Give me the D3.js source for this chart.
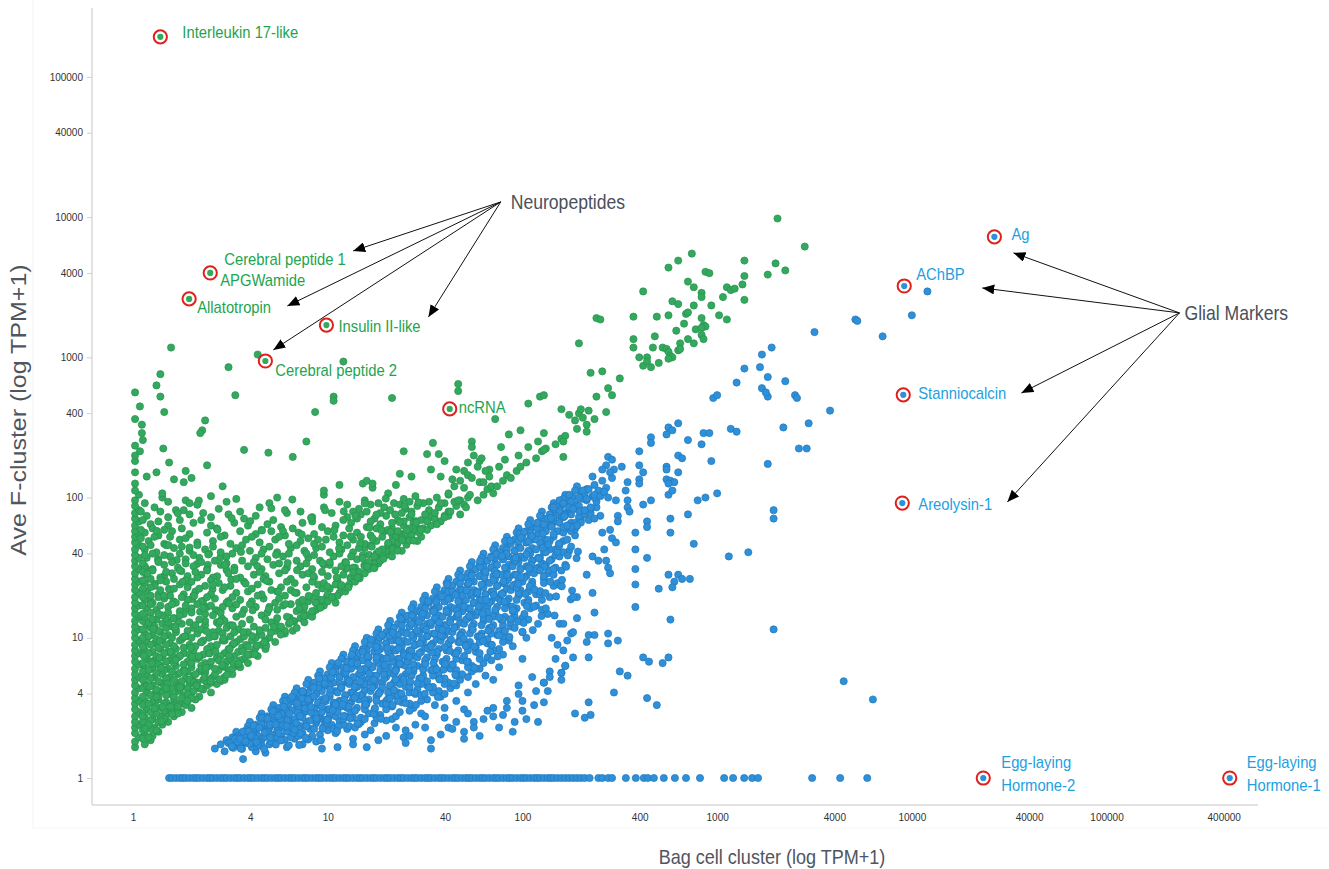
<!DOCTYPE html>
<html>
<head>
<meta charset="utf-8">
<script src="https://cdn.jsdelivr.net/npm/d3@7"></script>
<style>
  html, body { margin: 0; padding: 0; background: #ffffff; }
  svg { display: block; font-family: "Liberation Sans", Arial, Helvetica, sans-serif; }
</style>
</head>
<body>
<svg id="chart" width="1329" height="869"></svg>
<script>
// ---------------------------------------------------------------------------
// Expression values, written as "bag,fcluster" pairs in log10(TPM+1) units.
// ---------------------------------------------------------------------------

// F-cluster enriched genes with no bag cell expression (bag cell = 1)
const fZeroBag = "0.01,0.22 0.01,0.26 0.03,0.29 0.01,0.32 0.01,0.36 0.03,0.38 0.01,0.40 0.01,0.44 0.03,0.47 0.01,0.49 0.01,0.53 0.03,0.55 0.01,0.57 0.01,0.61 0.03,0.64 0.01,0.66 0.01,0.70 0.03,0.72 0.01,0.74 0.01,0.78 0.03,0.81 0.01,0.83 0.01,0.87 0.03,0.89 0.01,0.91 0.01,0.95 0.03,0.98 0.01,1.00 0.01,1.04 0.03,1.06 0.01,1.08 0.01,1.12 0.03,1.15 0.01,1.17 0.01,1.21 0.03,1.23 0.01,1.25 0.01,1.29 0.03,1.32 0.01,1.34 0.01,1.38 0.03,1.40 0.01,1.42 0.01,1.46 0.03,1.49 0.01,1.51 0.01,1.55 0.03,1.57 0.01,1.59 0.01,1.63 0.03,1.66 0.01,1.68 0.01,1.72 0.03,1.74 0.01,1.76 0.01,1.80 0.03,1.83 0.01,1.85 0.01,1.89 0.03,1.91 0.01,1.94 0.01,1.98 0.03,2.02 0.01,2.05 0.01,2.10 0.01,2.18 0.01,2.26 0.01,2.30 0.01,2.37 0.01,2.56 0.01,2.75 0.07,2.15 0.035,2.33 0.05,2.41 0.045,2.46 0.045,2.52 0.035,2.65";

// F-cluster enriched, low bag cell expression (dense corner)
const fLowBag = "0.06,0.24 0.09,0.27 0.06,0.31 0.10,0.30 0.13,0.33 0.07,0.37 0.11,0.36 0.15,0.38 0.18,0.40 0.06,0.43 0.10,0.42 0.14,0.44 0.17,0.45 0.21,0.44 0.07,0.49 0.11,0.48 0.15,0.50 0.19,0.48 0.22,0.50 0.25,0.47 0.06,0.55 0.10,0.54 0.13,0.56 0.17,0.54 0.21,0.56 0.24,0.53 0.28,0.55 0.07,0.61 0.11,0.60 0.15,0.62 0.19,0.60 0.23,0.62 0.26,0.59 0.30,0.61 0.34,0.58 0.06,0.67 0.10,0.66 0.14,0.68 0.18,0.66 0.22,0.68 0.25,0.65 0.29,0.67 0.33,0.64 0.38,0.66 0.07,0.73 0.11,0.72 0.15,0.74 0.19,0.72 0.23,0.74 0.27,0.71 0.31,0.73 0.36,0.70 0.41,0.72 0.45,0.69 0.06,0.79 0.10,0.78 0.14,0.80 0.18,0.78 0.22,0.80 0.26,0.77 0.30,0.79 0.34,0.76 0.39,0.80 0.44,0.77 0.49,0.75 0.07,0.85 0.11,0.84 0.15,0.86 0.19,0.84 0.23,0.86 0.28,0.83 0.33,0.85 0.37,0.82 0.43,0.86 0.48,0.83 0.53,0.80 0.06,0.91 0.10,0.90 0.14,0.92 0.18,0.90 0.22,0.92 0.26,0.89 0.31,0.91 0.36,0.88 0.42,0.92 0.47,0.89 0.52,0.87 0.57,0.85 0.07,0.97 0.11,0.96 0.15,0.98 0.19,0.96 0.24,0.98 0.29,0.95 0.35,0.97 0.40,0.94 0.46,0.98 0.51,0.95 0.56,0.93 0.62,0.90 0.06,1.03 0.10,1.02 0.14,1.04 0.18,1.02 0.22,1.04 0.27,1.01 0.33,1.03 0.39,1.00 0.44,1.05 0.50,1.01 0.55,0.99 0.61,0.98 0.66,0.95 0.07,1.09 0.11,1.08 0.15,1.10 0.20,1.08 0.25,1.10 0.31,1.07 0.37,1.09 0.43,1.11 0.48,1.07 0.54,1.06 0.59,1.04 0.65,1.03 0.70,1.00";

const fLowBagB = "0.05,0.28 0.08,0.29 0.05,0.34 0.09,0.35 0.12,0.34 0.05,0.40 0.09,0.41 0.13,0.40 0.16,0.42 0.05,0.46 0.09,0.47 0.12,0.46 0.16,0.48 0.20,0.47 0.23,0.46 0.05,0.52 0.08,0.53 0.12,0.51 0.16,0.53 0.20,0.52 0.23,0.51 0.27,0.52 0.30,0.50 0.05,0.58 0.09,0.59 0.13,0.58 0.17,0.59 0.21,0.58 0.25,0.57 0.29,0.58 0.32,0.56 0.05,0.64 0.08,0.65 0.12,0.63 0.16,0.65 0.20,0.64 0.24,0.63 0.28,0.64 0.31,0.62 0.36,0.63 0.40,0.61 0.05,0.70 0.09,0.71 0.13,0.69 0.17,0.71 0.21,0.70 0.25,0.69 0.29,0.70 0.33,0.68 0.38,0.69 0.43,0.67 0.47,0.70 0.05,0.76 0.08,0.77 0.12,0.75 0.16,0.77 0.20,0.76 0.24,0.75 0.28,0.76 0.32,0.74 0.37,0.75 0.42,0.74 0.47,0.72 0.51,0.74 0.05,0.82 0.09,0.83 0.13,0.81 0.17,0.83 0.21,0.82 0.26,0.81 0.30,0.82 0.35,0.80 0.40,0.83 0.46,0.80 0.51,0.78 0.55,0.79 0.05,0.88 0.08,0.89 0.12,0.87 0.16,0.89 0.20,0.88 0.24,0.87 0.29,0.88 0.34,0.86 0.39,0.89 0.45,0.87 0.50,0.85 0.55,0.84 0.59,0.82 0.05,0.94 0.09,0.95 0.13,0.93 0.17,0.95 0.21,0.94 0.26,0.93 0.32,0.94 0.38,0.92 0.43,0.95 0.49,0.92 0.54,0.90 0.60,0.88 0.64,0.87 0.05,1.00 0.08,1.01 0.12,0.99 0.16,1.01 0.20,1.00 0.25,0.99 0.30,1.00 0.36,0.98 0.42,1.01 0.47,0.98 0.53,0.97 0.58,0.95 0.63,0.93 0.68,0.92 0.05,1.06 0.09,1.07 0.13,1.05 0.17,1.07 0.22,1.06 0.28,1.05 0.35,1.06 0.41,1.04 0.46,1.03 0.52,1.04 0.57,1.01 0.63,1.00 0.68,0.98 0.73,0.97 0.05,1.12 0.08,1.11 0.12,1.13 0.18,1.11 0.23,1.12 0.29,1.11 0.37,1.12 0.44,1.10 0.50,1.09 0.56,1.10 0.62,1.08 0.68,1.07 0.73,1.05 0.78,1.03 0.82,1.05";

const fLowBagC = "0.04,1.158 0.048,0.441 0.056,0.872 0.064,1.495 0.072,0.658 0.08,0.378 0.088,1.264 0.096,0.817 0.104,1.064 0.112,1.384 0.12,0.579 0.128,1.562 0.136,0.978 0.144,0.784 0.152,0.507 0.16,1.441 0.168,1.139 0.176,0.673 0.184,1.349 0.192,0.899 0.20,0.455 0.208,1.26 0.216,1.076 0.224,1.554 0.232,0.647 0.24,0.87 0.248,1.475 0.256,1.004 0.264,0.763 0.272,1.201 0.28,0.599 0.288,1.393 0.296,0.928 0.304,1.277 0.312,0.682 0.32,1.091 0.328,1.526 0.336,0.869 0.344,1.186 0.352,0.778 0.36,1.263 0.368,0.72 0.376,1.048 0.384,1.52 0.392,0.889 0.40,0.679 0.408,1.347 0.416,1.012 0.424,1.198 0.432,1.439 0.44,0.839 0.448,1.572 0.456,1.138 0.464,0.995 0.472,0.792 0.48,1.483 0.488,1.261 0.496,0.919 0.504,1.416 0.512,1.088";

// genes just above the two-fold line
const fEdge = "0.30,0.57 0.324,0.664 0.348,0.638 0.372,0.772 0.396,0.706 0.42,0.78 0.444,0.704 0.468,0.798 0.492,0.872 0.516,0.816 0.54,0.81 0.564,0.904 0.588,0.878 0.612,1.012 0.636,0.946 0.66,1.02 0.684,0.944 0.708,1.038 0.732,1.112 0.756,1.056 0.78,1.05 0.804,1.144 0.828,1.118 0.852,1.252 0.876,1.186 0.90,1.26 0.924,1.184 0.948,1.278 0.972,1.352 0.996,1.296 1.02,1.29 1.044,1.384 1.068,1.358 1.092,1.492 1.116,1.426 1.14,1.50 1.164,1.424 1.188,1.518 1.212,1.592 1.236,1.536 1.26,1.53 1.284,1.624 1.308,1.598 1.332,1.732 1.356,1.666 1.38,1.74 1.404,1.664 1.428,1.758 1.452,1.832 1.476,1.776";

// F-cluster enriched, spread over mid bag cell values
const fMidBag = "0.06,1.15 0.10,1.13 0.15,1.16 0.21,1.14 0.26,1.17 0.34,1.13 0.41,1.16 0.47,1.12 0.53,1.15 0.60,1.13 0.66,1.16 0.71,1.11 0.76,1.08 0.80,1.10 0.84,1.07 0.07,1.21 0.12,1.20 0.18,1.22 0.24,1.19 0.30,1.21 0.38,1.22 0.44,1.19 0.51,1.21 0.57,1.20 0.63,1.22 0.69,1.18 0.74,1.20 0.79,1.15 0.86,1.14 0.90,1.16 0.06,1.27 0.10,1.25 0.16,1.28 0.22,1.25 0.28,1.27 0.35,1.26 0.42,1.28 0.48,1.25 0.55,1.27 0.61,1.26 0.67,1.28 0.73,1.25 0.81,1.24 0.88,1.22 0.94,1.20 0.98,1.23 0.07,1.33 0.13,1.31 0.19,1.34 0.26,1.31 0.32,1.33 0.40,1.31 0.46,1.34 0.53,1.32 0.59,1.33 0.66,1.31 0.71,1.34 0.78,1.30 0.84,1.32 0.91,1.29 0.97,1.27 1.03,1.29 1.06,1.32 0.06,1.39 0.11,1.37 0.17,1.40 0.24,1.38 0.30,1.40 0.37,1.37 0.44,1.39 0.50,1.37 0.57,1.40 0.64,1.38 0.70,1.40 0.76,1.36 0.83,1.39 0.89,1.36 0.95,1.38 1.01,1.35 1.07,1.36 1.11,1.38 0.07,1.45 0.14,1.43 0.20,1.46 0.28,1.44 0.35,1.45 0.41,1.43 0.49,1.46 0.55,1.43 0.62,1.45 0.68,1.44 0.75,1.46 0.81,1.42 0.87,1.45 0.93,1.43 1.00,1.44 1.05,1.41 1.12,1.43 1.16,1.45 0.06,1.51 0.10,1.49 0.16,1.52 0.23,1.50 0.31,1.51 0.38,1.49 0.45,1.52 0.52,1.50 0.59,1.51 0.66,1.49 0.72,1.52 0.79,1.50 0.86,1.51 0.92,1.49 0.98,1.52 1.04,1.48 1.10,1.50 1.16,1.47 1.21,1.49 1.24,1.53 0.07,1.57 0.13,1.55 0.19,1.58 0.27,1.56 0.34,1.57 0.42,1.55 0.48,1.58 0.56,1.55 0.63,1.57 0.69,1.56 0.77,1.58 0.84,1.55 0.90,1.57 0.96,1.55 1.03,1.58 1.09,1.54 1.15,1.56 1.21,1.54 1.27,1.56 1.30,1.59 0.06,1.63 0.12,1.61 0.21,1.64 0.29,1.62 0.37,1.63 0.45,1.61 0.53,1.64 0.60,1.62 0.67,1.63 0.74,1.61 0.81,1.64 0.88,1.62 0.94,1.64 1.01,1.61 1.07,1.63 1.13,1.61 1.19,1.64 1.25,1.60 1.30,1.62 1.35,1.64 0.08,1.69 0.16,1.67 0.24,1.70 0.33,1.68 0.41,1.69 0.50,1.67 0.58,1.70 0.65,1.68 0.73,1.70 0.80,1.67 0.86,1.69 0.93,1.67 0.99,1.70 1.06,1.68 1.13,1.70 1.19,1.67 1.25,1.69 1.31,1.66 1.36,1.68 1.41,1.70 0.06,1.75 0.13,1.73 0.20,1.76 0.29,1.74 0.38,1.75 0.47,1.73 0.55,1.76 0.63,1.74 0.71,1.76 0.78,1.73 0.85,1.75 0.93,1.74 1.00,1.76 1.08,1.73 1.15,1.75 1.22,1.73 1.29,1.76 1.35,1.72 1.40,1.74 1.45,1.76 1.48,1.72 0.09,1.81 0.18,1.80 0.31,1.82 0.40,1.80 0.52,1.82 0.59,1.80 0.69,1.81 0.76,1.79 0.87,1.82 0.92,1.83 1.04,1.80 1.12,1.82 1.20,1.79 1.27,1.81 1.33,1.78 1.39,1.80 1.44,1.82 1.49,1.78 1.53,1.80 1.56,1.82 0.07,1.87 0.18,1.86 0.29,1.88 0.40,1.86 0.49,1.88 0.63,1.87 0.79,1.89 0.92,1.86 1.02,1.89 1.10,1.86 1.17,1.88 1.24,1.85 1.30,1.87 1.36,1.84 1.42,1.86 1.48,1.84 1.53,1.86 1.58,1.83 1.60,1.87 0.11,1.93 0.22,1.91 0.33,1.95 0.44,1.92 0.65,1.93 0.78,1.91 0.98,1.93 1.06,1.97 1.16,1.92 1.22,1.95 1.29,1.93 1.34,1.96 1.40,1.92 1.46,1.94 1.52,1.91 1.57,1.93 1.62,1.90 1.66,1.94 0.15,2.00 0.27,1.98 0.40,2.01 0.53,1.99 0.74,2.00 0.98,2.02 1.06,2.09 1.18,2.10 1.23,2.07 1.31,2.03 1.35,2.09 1.39,1.99 1.45,2.01 1.52,1.97 1.56,2.00 1.62,2.02 1.68,1.98 1.72,2.00";

const fMidBagB = "0.05,1.17 0.09,1.18 0.13,1.17 0.18,1.18 0.24,1.16 0.30,1.18 0.37,1.17 0.45,1.18 0.56,1.17 0.68,1.13 0.74,1.14 0.82,1.12 0.88,1.11 0.92,1.15 0.05,1.23 0.09,1.24 0.14,1.23 0.20,1.24 0.27,1.23 0.33,1.24 0.40,1.23 0.46,1.22 0.60,1.24 0.70,1.22 0.77,1.23 0.84,1.19 0.92,1.19 0.96,1.22 0.05,1.29 0.09,1.30 0.13,1.29 0.19,1.30 0.25,1.29 0.31,1.30 0.38,1.29 0.51,1.29 0.64,1.30 0.75,1.28 0.87,1.27 0.94,1.25 1.00,1.26 1.04,1.25 0.05,1.35 0.09,1.36 0.14,1.34 0.21,1.35 0.28,1.36 0.34,1.35 0.47,1.36 0.61,1.35 0.74,1.33 0.81,1.34 0.94,1.32 1.00,1.31 1.05,1.30 1.09,1.33 0.05,1.41 0.09,1.42 0.14,1.41 0.21,1.42 0.27,1.41 0.33,1.43 0.40,1.41 0.53,1.42 0.67,1.42 0.79,1.40 0.92,1.40 0.98,1.39 1.04,1.38 1.09,1.36 1.14,1.40 0.05,1.47 0.10,1.48 0.17,1.47 0.24,1.48 0.32,1.47 0.38,1.48 0.52,1.48 0.65,1.47 0.78,1.48 0.90,1.46 0.97,1.47 1.08,1.45 1.14,1.44 1.19,1.46 0.05,1.53 0.13,1.54 0.20,1.54 0.27,1.53 0.35,1.54 0.48,1.53 0.62,1.54 0.75,1.53 0.89,1.53 1.01,1.52 1.07,1.51 1.13,1.50 1.19,1.51 1.24,1.50 1.27,1.55 0.06,1.59 0.10,1.60 0.16,1.59 0.24,1.60 0.31,1.59 0.39,1.60 0.51,1.60 0.66,1.60 0.80,1.60 0.93,1.59 1.06,1.60 1.12,1.58 1.18,1.59 1.24,1.58 1.28,1.60 1.33,1.58 0.05,1.65 0.09,1.66 0.17,1.66 0.25,1.65 0.33,1.66 0.41,1.65 0.56,1.66 0.70,1.65 0.84,1.66 0.97,1.65 1.10,1.66 1.16,1.64 1.22,1.66 1.28,1.63 1.33,1.65 1.38,1.62 0.04,1.71 0.11,1.72 0.19,1.72 0.27,1.71 0.45,1.72 0.61,1.72 0.75,1.72 0.90,1.71 1.03,1.72 1.17,1.72 1.23,1.71 1.28,1.72 1.33,1.69 1.38,1.71 1.43,1.73 1.46,1.69 0.04,1.77 0.10,1.78 0.16,1.77 0.25,1.78 0.43,1.78 0.66,1.77 0.82,1.78 0.97,1.79 1.11,1.78 1.25,1.78 1.31,1.77 1.36,1.76 1.42,1.78 1.47,1.75 1.51,1.77 0.05,1.84 0.13,1.83 0.24,1.84 0.35,1.84 0.57,1.85 0.72,1.84 1.08,1.84 1.15,1.85 1.22,1.83 1.33,1.82 1.39,1.83 1.45,1.81 1.51,1.83 1.55,1.85 0.04,1.90 0.14,1.90 0.26,1.91 0.36,1.89 0.55,1.90 0.86,1.90 1.13,1.90 1.20,1.90 1.27,1.89 1.32,1.91 1.38,1.89 1.43,1.90 1.50,1.88 1.55,1.89 1.62,1.87 0.06,1.96 0.18,1.97 0.29,1.96 0.48,1.97 0.70,1.96 1.10,1.95 1.19,1.98 1.26,1.96 1.37,1.95 1.42,1.97 1.49,1.96 1.60,1.96 1.65,1.97 1.70,1.95";

const fMidBagC = "0.05,0.938 0.062,0.351 0.074,1.457 0.086,0.652 0.098,1.134 0.11,0.496 0.122,1.762 0.134,0.856 0.146,0.404 0.158,1.301 0.17,0.641 0.182,1.661 0.194,0.509 0.206,1.138 0.218,0.842 0.23,1.888 0.242,0.647 0.254,1.399 0.266,1.01 0.278,0.55 0.29,1.644 0.302,0.865 0.314,1.299 0.326,0.659 0.338,1.979 0.35,0.968 0.362,1.209 0.374,0.786 0.386,1.594 0.398,0.691 0.41,1.378 0.422,0.902 0.434,1.771 0.446,1.116 0.458,0.806 0.47,1.519 0.482,0.736 0.494,1.243 0.506,1.853 0.518,0.96 0.53,1.238 0.542,0.82 0.554,1.612 0.566,1.041 0.578,1.386 0.59,0.936 0.602,1.832 0.614,1.196 0.626,0.882 0.638,1.512 0.65,1.054 0.662,1.765 0.674,0.969 0.686,1.406 0.698,1.205 0.71,1.923 0.722,1.078 0.734,1.592 0.746,1.33 0.758,1.023 0.77,1.761 0.782,1.241 0.794,1.533 0.806,1.111 0.818,1.986 0.83,1.322 0.842,1.482 0.854,1.21 0.866,1.737 0.878,1.156 0.89,1.601 0.902,1.299 0.914,1.855 0.926,1.441 0.938,1.25 0.95,1.699 0.962,1.214 0.974,1.532 0.986,1.91 0.998,1.365 1.01,1.538 1.022,1.289 1.034,1.768 1.046,1.43 1.058,1.637 1.07,1.376 1.082,1.902 1.094,1.536 1.106,1.359 1.118,1.723 1.13,1.467 1.142,1.869 1.154,1.429 1.166,1.674 1.178,1.568 1.19,1.959 1.202,1.508 1.214,1.785 1.226,1.65 1.238,1.496 1.25,1.878 1.262,1.617 1.274,1.768 1.286,1.563 1.298,1.993 1.31,1.676 1.322,1.756 1.334,1.633 1.346,1.88 1.358,1.621 1.37,1.824 1.382,1.696 1.394,1.938 1.406,1.767 1.418,1.693 1.43,1.88 1.442,1.693 1.454,1.822 1.466,1.966 1.478,1.77";

// F-cluster enriched, sparse high values
const fHighSparse = "0.15,2.03 0.26,2.11 0.21,2.13 0.30,2.14 0.27,2.19 0.12,2.18 0.46,2.08 0.33,1.95 0.38,2.23 0.57,2.34 0.695,2.32 0.82,2.29 0.89,2.40 0.935,2.61 1.03,2.72 1.03,2.69 1.08,2.97 0.64,3.02 0.49,2.93 0.525,2.73 0.37,2.55 0.355,2.48 0.345,2.46 0.195,3.07 0.12,2.80 0.14,2.88 0.14,2.72 0.16,2.61 0.155,2.35 0.185,2.25 0.98,2.05 1.33,2.71 1.67,2.81 1.67,2.76 1.86,2.56 1.20,2.12 1.23,2.10 1.37,2.17 1.43,2.15 1.39,2.33 1.54,2.39 1.51,2.31 1.57,2.31 1.53,2.20 1.58,2.15 1.74,2.40 1.74,2.36 1.70,2.19 1.72,2.16 1.78,2.11 1.80,2.11 1.75,2.30 1.78,2.26 1.77,2.22 1.83,2.20 1.89,2.36";

// F-cluster enriched band at higher bag cell values
const fBand = "1.56,1.81 1.60,1.86 1.63,1.90 1.58,1.96 1.62,2.03 1.65,2.08 1.64,2.13 1.66,2.20 1.60,2.26 1.68,1.88 1.71,1.93 1.67,1.98 1.73,2.02 1.70,2.07 1.68,2.12 1.74,2.14 1.72,2.25 1.77,1.98 1.80,2.02 1.82,2.06 1.84,2.08 1.85,2.03 1.83,2.15 1.81,2.19 1.79,2.28 1.87,2.08 1.90,2.12 1.92,2.16 1.88,2.22 1.91,2.27 1.94,2.14 1.93,2.45 1.97,2.19 1.99,2.22 2.02,2.25 1.98,2.30 2.03,2.36 1.99,2.48 2.03,2.67 2.07,2.28 2.10,2.33 2.12,2.35 2.08,2.40 2.11,2.46 2.09,2.72 2.11,2.73 2.17,2.38 2.20,2.42 2.22,2.44 2.21,2.40 2.20,2.63 2.24,2.59 2.27,2.55 2.29,2.60 2.31,2.57 2.33,2.52 2.34,2.62 2.28,2.49 2.30,2.63 2.29,3.10 2.35,2.89 2.33,2.47 2.38,2.72 2.41,2.90 2.44,2.78 2.46,2.73 2.43,2.61 2.50,2.85 2.38,3.28 2.40,3.27 2.37,2.56 2.21,2.29 2.11,2.34";

// F-cluster enriched, highest bag cell values
const fTop = "2.57,3.29 2.62,3.47 2.57,3.13 2.57,3.07 2.62,2.94 2.64,3.00 2.67,3.07 2.68,3.15 2.69,3.29 2.70,2.96 2.64,2.97 2.72,3.07 2.74,3.06 2.75,3.04 2.76,3.01 2.77,3.00 2.75,2.99 2.75,3.30 2.77,3.40 2.80,3.38 2.79,3.19 2.81,3.10 2.80,3.05 2.81,3.06 2.83,3.24 2.84,3.31 2.85,3.32 2.85,3.13 2.88,3.10 2.89,3.20 2.88,3.37 2.85,3.54 2.88,3.50 2.87,3.74 2.80,3.69 2.75,3.64 2.92,3.46 2.92,3.43 2.92,3.28 2.92,3.16 2.93,3.13 2.93,3.23 2.94,3.22 2.92,3.21 2.94,3.61 2.96,3.60 2.97,3.37 3.01,3.30 3.05,3.27 3.03,3.43 3.05,3.50 3.07,3.48 3.09,3.49 3.13,3.52 3.14,3.41 3.14,3.58 3.14,3.69 3.26,3.59 3.30,3.67 3.35,3.62 3.31,3.99 3.45,3.79 2.60,3.00 2.66,2.93";

// Bag cell enriched, main body
const bagCore = "0.42,0.21 0.45,0.24 0.47,0.19 0.51,0.22 0.54,0.25 0.565,0.135 0.63,0.19 0.68,0.18 0.48,0.27 0.51,0.29 0.55,0.30 0.58,0.26 0.61,0.29 0.66,0.27 0.70,0.24 0.74,0.28 0.79,0.22 0.83,0.28 0.87,0.24 0.94,0.26 1.13,0.24 1.26,0.27 1.39,0.29 1.53,0.27 1.53,0.21 1.05,0.22 0.97,0.21 0.53,0.33 0.57,0.32 0.60,0.36 0.63,0.33 0.68,0.35 0.71,0.31 0.74,0.34 0.79,0.33 0.82,0.36 0.87,0.32 0.91,0.35 0.96,0.31 1.00,0.34 1.04,0.32 1.10,0.35 1.19,0.31 1.30,0.30 1.62,0.36 1.64,0.35 1.70,0.33 1.88,0.36 0.60,0.40 0.63,0.38 0.67,0.42 0.70,0.39 0.75,0.41 0.78,0.38 0.81,0.41 0.86,0.37 0.89,0.40 0.94,0.39 0.97,0.42 1.02,0.38 1.06,0.41 1.11,0.37 1.17,0.40 1.24,0.39 1.33,0.42 1.40,0.34 1.45,0.38 1.75,0.40 1.80,0.42 1.96,0.40 2.08,0.40 0.66,0.46 0.69,0.44 0.73,0.47 0.77,0.45 0.80,0.48 0.85,0.44 0.88,0.47 0.93,0.43 0.96,0.46 1.01,0.45 1.04,0.48 1.09,0.44 1.12,0.47 1.17,0.43 1.21,0.46 1.27,0.45 1.35,0.44 1.48,0.46 1.60,0.43 1.90,0.45 0.72,0.52 0.75,0.50 0.79,0.53 0.84,0.51 0.87,0.54 0.91,0.50 0.95,0.52 1.00,0.49 1.03,0.53 1.07,0.51 1.12,0.54 1.15,0.50 1.19,0.52 1.24,0.49 1.28,0.53 1.33,0.51 1.38,0.54 1.44,0.50 1.55,0.52 1.70,0.49 1.85,0.50 2.00,0.48 0.78,0.58 0.82,0.56 0.85,0.59 0.89,0.57 0.94,0.60 0.97,0.56 1.01,0.58 1.06,0.55 1.09,0.59 1.13,0.57 1.18,0.60 1.21,0.56 1.25,0.58 1.30,0.55 1.34,0.59 1.39,0.57 1.45,0.60 1.51,0.56 1.58,0.58 1.66,0.55 1.92,0.55 1.98,0.60 0.84,0.64 0.87,0.62 0.91,0.65 0.96,0.63 0.99,0.66 1.04,0.62 1.07,0.64 1.12,0.61 1.15,0.65 1.19,0.63 1.24,0.66 1.27,0.62 1.32,0.64 1.36,0.61 1.40,0.65 1.46,0.63 1.51,0.66 1.57,0.62 1.63,0.64 1.72,0.61 2.07,0.62 0.90,0.70 0.93,0.68 0.98,0.71 1.01,0.69 1.06,0.72 1.10,0.68 1.13,0.70 1.18,0.67 1.22,0.71 1.25,0.69 1.30,0.72 1.34,0.68 1.37,0.70 1.42,0.67 1.47,0.71 1.51,0.69 1.57,0.72 1.62,0.68 1.68,0.70 1.76,0.67 1.85,0.70 2.05,0.72 2.11,0.68 0.96,0.76 1.00,0.74 1.03,0.77 1.08,0.75 1.11,0.78 1.16,0.74 1.20,0.76 1.23,0.73 1.28,0.77 1.32,0.75 1.35,0.78 1.40,0.74 1.44,0.76 1.49,0.73 1.53,0.77 1.57,0.75 1.63,0.78 1.69,0.74 1.74,0.76 1.81,0.73 2.14,0.76 2.20,0.75 1.02,0.82 1.05,0.80 1.10,0.83 1.14,0.81 1.17,0.84 1.22,0.80 1.26,0.82 1.29,0.79 1.34,0.83 1.38,0.81 1.41,0.84 1.46,0.80 1.50,0.82 1.55,0.79 1.59,0.83 1.64,0.81 1.69,0.84 1.74,0.80 1.80,0.82 1.88,0.79 2.22,0.80 1.08,0.88 1.12,0.86 1.15,0.89 1.20,0.87 1.24,0.90 1.27,0.86 1.32,0.88 1.36,0.85 1.39,0.89 1.44,0.87 1.48,0.90 1.51,0.86 1.56,0.88 1.61,0.85 1.65,0.89 1.70,0.87 1.76,0.90 1.82,0.86 1.90,0.88 2.00,0.85 2.17,0.85 2.26,0.86 2.34,0.86 1.14,0.94 1.18,0.92 1.21,0.95 1.26,0.93 1.30,0.96 1.33,0.92 1.38,0.94 1.42,0.91 1.45,0.95 1.50,0.93 1.54,0.96 1.57,0.92 1.62,0.94 1.67,0.91 1.71,0.95 1.76,0.93 1.82,0.96 1.88,0.92 1.95,0.94 2.21,0.91 2.18,0.95 1.20,1.00 1.24,0.98 1.27,1.01 1.32,0.99 1.36,1.02 1.39,0.98 1.44,1.00 1.48,0.97 1.51,1.01 1.56,0.99 1.60,1.02 1.63,0.98 1.68,1.00 1.73,0.97 1.77,1.01 1.82,0.99 1.87,1.02 1.93,0.98 2.02,1.00 2.15,1.00 2.23,0.98 1.26,1.06 1.30,1.04 1.33,1.07 1.38,1.05 1.42,1.08 1.45,1.04 1.50,1.06 1.54,1.03 1.57,1.07 1.62,1.05 1.66,1.08 1.69,1.04 1.74,1.06 1.79,1.03 1.83,1.07 1.88,1.05 1.94,1.08 2.00,1.04 2.25,1.03 1.32,1.12 1.36,1.10 1.39,1.13 1.44,1.11 1.48,1.14 1.51,1.10 1.56,1.12 1.60,1.09 1.63,1.13 1.68,1.11 1.72,1.14 1.75,1.10 1.80,1.12 1.85,1.09 1.89,1.13 1.94,1.11 2.00,1.14 2.08,1.10 2.19,1.10 1.38,1.18 1.42,1.16 1.45,1.19 1.50,1.17 1.54,1.20 1.57,1.16 1.62,1.18 1.66,1.15 1.69,1.19 1.74,1.17 1.78,1.20 1.81,1.16 1.86,1.18 1.91,1.15 1.95,1.19 2.01,1.17 2.10,1.20 2.13,1.17 1.44,1.24 1.48,1.22 1.51,1.25 1.56,1.23 1.60,1.26 1.63,1.22 1.68,1.24 1.72,1.21 1.75,1.25 1.80,1.23 1.84,1.26 1.87,1.22 1.92,1.24 1.97,1.21 2.01,1.25 2.07,1.23 1.50,1.30 1.54,1.28 1.57,1.31 1.62,1.29 1.66,1.32 1.69,1.28 1.74,1.30 1.78,1.27 1.81,1.31 1.86,1.29 1.90,1.32 1.93,1.28 1.98,1.30 2.03,1.27 2.07,1.31 2.14,1.29 1.56,1.36 1.60,1.34 1.63,1.37 1.68,1.35 1.72,1.38 1.75,1.34 1.80,1.36 1.84,1.33 1.87,1.37 1.92,1.35 1.96,1.38 1.99,1.34 2.04,1.36 2.09,1.33 2.16,1.37 1.62,1.42 1.66,1.40 1.69,1.43 1.74,1.41 1.78,1.44 1.81,1.40 1.86,1.42 1.90,1.39 1.93,1.43 1.98,1.41 2.02,1.44 2.05,1.40 2.11,1.42 2.18,1.39 1.68,1.48 1.72,1.46 1.75,1.49 1.80,1.47 1.84,1.50 1.87,1.46 1.92,1.48 1.96,1.45 1.99,1.49 2.04,1.47 2.08,1.50 2.13,1.46 2.20,1.48 1.74,1.54 1.78,1.52 1.81,1.55 1.86,1.53 1.90,1.56 1.93,1.52 1.98,1.54 2.02,1.51 2.05,1.55 2.10,1.53 2.15,1.56 2.22,1.52 1.80,1.60 1.84,1.58 1.87,1.61 1.92,1.59 1.96,1.62 1.99,1.58 2.04,1.60 2.08,1.57 2.11,1.61 2.17,1.59 2.24,1.62 1.86,1.66 1.90,1.64 1.93,1.67 1.98,1.65 2.02,1.68 2.05,1.64 2.10,1.66 2.14,1.63 2.19,1.67 2.25,1.65 1.92,1.72 1.96,1.70 1.99,1.73 2.04,1.71 2.08,1.74 2.11,1.70 2.16,1.72 2.21,1.69 2.27,1.73 1.98,1.78 2.02,1.76 2.05,1.79 2.10,1.77 2.14,1.80 2.18,1.76 2.23,1.78 2.28,1.80 2.04,1.84 2.08,1.82 2.11,1.85 2.16,1.83 2.20,1.86 2.25,1.82 2.30,1.84 2.34,1.84 2.10,1.90 2.14,1.88 2.17,1.91 2.22,1.89 2.27,1.92 2.32,1.88 2.38,1.93 2.16,1.96 2.20,1.94 2.23,1.97 2.28,1.95 2.33,1.98 2.38,1.97 2.22,2.02 2.26,2.00 2.30,2.03 2.36,2.01 2.41,2.04 2.28,2.08 2.33,2.06 2.37,2.09 2.43,2.07 2.36,2.15 2.41,2.12 2.46,2.14";

const bagCoreB = "0.49,0.25 0.53,0.23 0.57,0.25 0.61,0.22 0.66,0.23 0.72,0.25 0.54,0.30 0.57,0.29 0.60,0.31 0.64,0.30 0.67,0.29 0.71,0.28 0.76,0.30 0.81,0.29 0.85,0.30 0.90,0.28 0.59,0.37 0.62,0.35 0.66,0.37 0.70,0.36 0.73,0.38 0.77,0.36 0.81,0.37 0.85,0.35 0.89,0.37 0.93,0.35 0.98,0.37 1.03,0.35 1.08,0.38 1.14,0.36 0.65,0.43 0.68,0.41 0.72,0.43 0.76,0.42 0.79,0.44 0.83,0.42 0.87,0.43 0.91,0.41 0.95,0.43 0.99,0.41 1.04,0.44 1.08,0.42 1.13,0.43 1.19,0.42 1.25,0.43 1.30,0.41 0.71,0.49 0.74,0.47 0.78,0.49 0.82,0.48 0.85,0.50 0.89,0.48 0.93,0.49 0.97,0.47 1.01,0.49 1.05,0.47 1.10,0.50 1.14,0.48 1.19,0.49 1.24,0.47 1.30,0.49 1.37,0.47 1.42,0.48 0.77,0.55 0.80,0.53 0.84,0.55 0.88,0.54 0.91,0.56 0.95,0.54 0.99,0.55 1.03,0.53 1.07,0.55 1.11,0.53 1.16,0.56 1.20,0.54 1.25,0.55 1.30,0.53 1.36,0.55 1.42,0.53 1.48,0.55 0.83,0.61 0.86,0.59 0.90,0.61 0.94,0.60 0.97,0.62 1.01,0.60 1.05,0.61 1.09,0.59 1.13,0.61 1.17,0.59 1.22,0.62 1.26,0.60 1.31,0.61 1.36,0.59 1.42,0.61 1.48,0.59 1.54,0.61 1.60,0.60 0.89,0.67 0.92,0.65 0.96,0.67 1.00,0.66 1.03,0.68 1.07,0.66 1.11,0.67 1.15,0.65 1.19,0.67 1.23,0.65 1.28,0.68 1.32,0.66 1.37,0.67 1.42,0.65 1.48,0.67 1.54,0.65 1.60,0.67 1.66,0.66 0.95,0.73 0.98,0.71 1.02,0.73 1.06,0.72 1.09,0.74 1.13,0.72 1.17,0.73 1.21,0.71 1.25,0.73 1.29,0.71 1.34,0.74 1.38,0.72 1.43,0.73 1.48,0.71 1.54,0.73 1.60,0.71 1.66,0.73 1.72,0.72 1.01,0.79 1.04,0.77 1.08,0.79 1.12,0.78 1.15,0.80 1.19,0.78 1.23,0.79 1.27,0.77 1.31,0.79 1.35,0.77 1.40,0.80 1.44,0.78 1.49,0.79 1.54,0.77 1.60,0.79 1.66,0.77 1.72,0.79 1.78,0.78 1.07,0.85 1.10,0.83 1.14,0.85 1.18,0.84 1.21,0.86 1.25,0.84 1.29,0.85 1.33,0.83 1.37,0.85 1.41,0.83 1.46,0.86 1.50,0.84 1.55,0.85 1.60,0.83 1.66,0.85 1.72,0.83 1.78,0.85 1.84,0.84 1.13,0.91 1.16,0.89 1.20,0.91 1.24,0.90 1.27,0.92 1.31,0.90 1.35,0.91 1.39,0.89 1.43,0.91 1.47,0.89 1.52,0.92 1.56,0.90 1.61,0.91 1.66,0.89 1.72,0.91 1.78,0.89 1.85,0.91 1.19,0.97 1.22,0.95 1.26,0.97 1.30,0.96 1.33,0.98 1.37,0.96 1.41,0.97 1.45,0.95 1.49,0.97 1.53,0.95 1.58,0.98 1.62,0.96 1.67,0.97 1.72,0.95 1.78,0.97 1.84,0.95 1.90,0.97 1.25,1.03 1.28,1.01 1.32,1.03 1.36,1.02 1.39,1.04 1.43,1.02 1.47,1.03 1.51,1.01 1.55,1.03 1.59,1.01 1.64,1.04 1.68,1.02 1.73,1.03 1.78,1.01 1.84,1.03 1.90,1.01 1.31,1.09 1.34,1.07 1.38,1.09 1.42,1.08 1.45,1.10 1.49,1.08 1.53,1.09 1.57,1.07 1.61,1.09 1.65,1.07 1.70,1.10 1.74,1.08 1.79,1.09 1.84,1.07 1.90,1.09 1.96,1.07 1.37,1.15 1.40,1.13 1.44,1.15 1.48,1.14 1.51,1.16 1.55,1.14 1.59,1.15 1.63,1.13 1.67,1.15 1.71,1.13 1.76,1.16 1.80,1.14 1.85,1.15 1.90,1.13 1.96,1.15 2.03,1.13 1.43,1.21 1.46,1.19 1.50,1.21 1.54,1.20 1.57,1.22 1.61,1.20 1.65,1.21 1.69,1.19 1.73,1.21 1.77,1.19 1.82,1.22 1.86,1.20 1.91,1.21 1.96,1.19 2.04,1.21 1.49,1.27 1.52,1.25 1.56,1.27 1.60,1.26 1.63,1.28 1.67,1.26 1.71,1.27 1.75,1.25 1.79,1.27 1.83,1.25 1.88,1.28 1.92,1.26 1.97,1.27 2.03,1.25 2.10,1.27 1.55,1.33 1.58,1.31 1.62,1.33 1.66,1.32 1.69,1.34 1.73,1.32 1.77,1.33 1.81,1.31 1.85,1.33 1.89,1.31 1.94,1.34 1.98,1.32 2.03,1.33 2.09,1.31 1.61,1.39 1.64,1.37 1.68,1.39 1.72,1.38 1.75,1.40 1.79,1.38 1.83,1.39 1.87,1.37 1.91,1.39 1.95,1.37 2.00,1.40 2.05,1.38 2.11,1.39 1.67,1.45 1.70,1.43 1.74,1.45 1.78,1.44 1.81,1.46 1.85,1.44 1.89,1.45 1.93,1.43 1.97,1.45 2.01,1.43 2.06,1.46 2.11,1.44 2.16,1.45 1.73,1.51 1.76,1.49 1.80,1.51 1.84,1.50 1.87,1.52 1.91,1.50 1.95,1.51 1.99,1.49 2.03,1.51 2.07,1.49 2.12,1.52 2.17,1.50 1.79,1.57 1.82,1.55 1.86,1.57 1.90,1.56 1.93,1.58 1.97,1.56 2.01,1.57 2.05,1.55 2.09,1.57 2.14,1.55 2.19,1.58 1.85,1.63 1.88,1.61 1.92,1.63 1.96,1.62 1.99,1.64 2.03,1.62 2.07,1.63 2.12,1.61 2.17,1.63 2.21,1.61 1.91,1.69 1.94,1.67 1.98,1.69 2.02,1.68 2.05,1.70 2.09,1.68 2.14,1.69 2.19,1.67 2.23,1.70 1.97,1.75 2.00,1.73 2.04,1.75 2.08,1.74 2.12,1.76 2.16,1.74 2.21,1.75 2.25,1.76 2.03,1.81 2.07,1.79 2.11,1.81 2.15,1.80 2.19,1.82 2.23,1.80 2.27,1.82 2.09,1.87 2.13,1.85 2.17,1.87 2.21,1.86 2.25,1.88 2.29,1.86 2.35,1.89 2.15,1.93 2.19,1.91 2.24,1.92 2.29,1.94 2.35,1.92 2.21,1.99 2.25,1.97 2.31,1.99 2.37,2.00 2.27,2.05 2.32,2.03 2.39,2.05";

const bagCoreC = "0.50,0.25 0.515,0.215 0.53,0.288 0.545,0.25 0.56,0.208 0.575,0.287 0.59,0.25 0.605,0.343 0.62,0.293 0.635,0.225 0.65,0.363 0.665,0.423 0.68,0.293 0.695,0.348 0.71,0.259 0.725,0.392 0.74,0.287 0.755,0.457 0.77,0.377 0.785,0.548 0.80,0.233 0.815,0.361 0.83,0.545 0.845,0.467 0.86,0.318 0.875,0.611 0.89,0.37 0.905,0.545 0.92,0.299 0.935,0.456 0.95,0.645 0.965,0.269 0.98,0.544 0.995,0.395 1.01,0.66 1.025,0.484 1.04,0.758 1.055,0.369 1.07,0.665 1.085,0.558 1.10,0.70 1.115,0.426 1.13,0.833 1.145,0.59 1.16,0.385 1.175,0.709 1.19,0.553 1.205,0.867 1.22,0.679 1.235,0.459 1.25,0.859 1.265,1.004 1.28,0.647 1.295,0.779 1.31,0.566 1.325,0.864 1.34,0.628 1.355,0.982 1.37,0.814 1.385,1.141 1.40,0.533 1.415,0.766 1.43,1.10 1.445,0.949 1.46,0.675 1.475,1.186 1.49,0.772 1.505,1.058 1.52,0.644 1.535,0.897 1.55,1.197 1.565,0.578 1.58,1.018 1.595,0.773 1.61,1.188 1.625,0.907 1.64,1.33 1.655,0.737 1.67,1.176 1.685,1.015 1.70,1.222 1.715,0.829 1.73,1.404 1.745,1.059 1.76,0.778 1.775,1.225 1.79,1.008 1.805,1.431 1.82,1.182 1.835,0.901 1.85,1.412 1.865,1.595 1.88,1.146 1.895,1.313 1.91,1.048 1.925,1.415 1.94,1.134 1.955,1.557 1.97,1.356 1.985,1.739 2.00,1.042 2.015,1.313 2.03,1.688 2.045,1.519 2.06,1.222 2.075,1.781 2.09,1.332 2.105,1.643 2.12,1.21 2.135,1.481 2.15,1.792 2.165,1.159 2.18,1.614 2.195,1.373 2.21,1.788 2.225,1.507 2.24,1.93 2.255,1.337 2.27,1.776 2.285,1.615 2.30,1.822";

const bagCoreD = "0.508,0.226 0.523,0.28 0.538,0.259 0.553,0.21 0.568,0.299 0.583,0.343 0.598,0.244 0.613,0.311 0.628,0.283 0.643,0.236 0.658,0.384 0.673,0.207 0.688,0.329 0.703,0.38 0.718,0.456 0.733,0.239 0.748,0.321 0.763,0.456 0.778,0.273 0.793,0.414 0.808,0.566 0.823,0.321 0.838,0.392 0.853,0.236 0.868,0.567 0.883,0.497 0.898,0.274 0.913,0.47 0.928,0.582 0.943,0.41 0.958,0.685 0.973,0.352 0.988,0.57 1.003,0.423 1.018,0.718 1.033,0.537 1.048,0.334 1.063,0.674 1.078,0.524 1.093,0.752 1.108,0.509 1.123,0.82 1.138,0.651 1.153,0.389 1.168,0.775 1.183,0.917 1.198,0.524 1.213,0.745 1.228,0.644 1.243,0.498 1.258,0.908 1.273,0.422 1.288,0.738 1.303,0.852 1.318,1.015 1.333,0.52 1.348,0.702 1.363,0.976 1.378,0.602 1.393,0.876 1.408,1.156 1.423,0.688 1.438,0.812 1.453,0.522 1.468,1.113 1.483,0.986 1.498,0.60 1.513,0.925 1.528,1.108 1.543,0.82 1.558,1.257 1.573,0.703 1.588,1.057 1.603,0.813 1.618,1.276 1.633,0.987 1.648,0.674 1.663,1.193 1.678,0.968 1.693,1.303 1.708,0.942 1.723,1.389 1.738,1.148 1.753,0.787 1.768,1.314 1.783,1.505 1.798,0.976 1.813,1.271 1.828,1.134 1.843,0.949 1.858,1.476 1.873,0.867 1.888,1.258 1.903,1.401 1.918,1.60 1.933,1.006 1.948,1.222 1.963,1.549 1.978,1.116 1.993,1.434 2.008,1.754 2.023,1.225 2.038,1.368 2.053,1.055 2.068,1.702 2.083,1.565 2.098,1.155 2.113,1.507 2.128,1.698 2.143,1.40 2.158,1.856 2.173,1.295 2.188,1.654 2.203,1.413 2.218,1.876 2.233,1.587 2.248,1.274 2.263,1.793 2.278,1.568 2.293,1.903";

const bagCoreE = "0.55,0.279 0.564,0.331 0.578,0.261 0.592,0.333 0.606,0.301 0.62,0.374 0.634,0.255 0.648,0.359 0.662,0.431 0.676,0.324 0.69,0.425 0.704,0.288 0.718,0.476 0.732,0.382 0.746,0.444 0.76,0.268 0.774,0.509 0.788,0.37 0.802,0.459 0.816,0.58 0.83,0.344 0.844,0.533 0.858,0.441 0.872,0.617 0.886,0.287 0.90,0.56 0.914,0.507 0.928,0.644 0.942,0.424 0.956,0.71 0.97,0.51 0.984,0.673 0.998,0.414 1.012,0.632 1.026,0.756 1.04,0.525 1.054,0.822 1.068,0.646 1.082,0.443 1.096,0.784 1.11,0.691 1.124,0.88 1.138,0.572 1.152,0.818 1.166,0.688 1.18,0.901 1.194,0.526 1.208,0.815 1.222,0.988 1.236,0.70 1.25,0.935 1.264,0.606 1.278,1.02 1.292,0.806 1.306,0.927 1.32,0.568 1.334,1.036 1.348,0.763 1.362,0.925 1.376,1.135 1.39,0.705 1.404,1.031 1.418,0.865 1.432,1.159 1.446,0.61 1.46,1.052 1.474,0.959 1.488,1.172 1.502,0.813 1.516,1.26 1.53,0.937 1.544,1.187 1.558,0.775 1.572,1.11 1.586,1.295 1.60,0.932 1.614,1.381 1.628,1.111 1.642,0.807 1.656,1.306 1.67,1.168 1.684,1.434 1.698,0.996 1.712,1.338 1.726,1.156 1.74,1.443 1.754,0.937 1.768,1.322 1.782,1.547 1.796,1.17 1.81,1.471 1.824,1.052 1.838,1.573 1.852,1.305 1.866,1.454 1.88,1.017 1.894,1.582 1.908,1.257 1.922,1.449 1.936,1.693 1.95,1.196 1.964,1.571 1.978,1.384 1.992,1.714 2.006,1.106 2.02,1.595 2.034,1.495 2.048,1.726 2.062,1.343 2.076,1.819 2.09,1.48 2.104,1.742 2.118,1.319 2.132,1.665 2.146,1.854 2.16,1.492 2.174,1.941 2.188,1.671 2.202,1.367 2.216,1.866";

// Bag cell enriched, sparse outliers
const bagSparse = "2.11,0.54 2.20,0.75 2.20,0.70 2.11,0.68 2.27,0.46 2.32,0.43 2.35,0.45 2.34,0.54 2.47,0.61 2.64,0.57 2.69,0.52 2.50,0.76 2.54,0.73 2.62,0.86 2.65,0.83 2.72,0.82 2.75,0.86 2.26,1.04 2.28,1.14 2.37,1.18 2.34,1.02 2.37,1.02 2.33,0.97 2.44,1.03 2.44,0.96 2.49,0.98 2.58,1.22 2.76,1.13 2.58,1.38 2.58,1.49 2.58,1.63 2.64,1.57 2.70,1.35 2.75,1.45 2.80,1.45 2.82,1.42 2.86,1.42 2.78,1.40 2.77,1.36 2.88,1.67 3.06,1.58 3.16,1.61 3.29,1.91 3.29,1.85 3.29,1.06 3.65,0.69 3.80,0.56 2.28,1.29 2.26,1.29 2.33,1.45 2.36,1.32 2.36,1.58 2.39,1.55 2.43,1.55 2.44,1.50 2.45,1.46 2.42,1.63 2.41,1.75 2.45,1.77 2.46,1.71 2.48,1.68 2.49,1.87 2.49,1.83 2.58,1.75 2.64,1.83 2.64,1.79 2.76,1.85 2.76,1.75 2.16,1.93 2.21,1.10 2.13,0.62 2.22,0.80 2.14,0.72 1.98,0.66 1.92,0.50 1.85,0.44 1.75,0.36 1.70,0.28 2.00,0.55 1.40,0.25 1.20,0.22 1.42,0.30 1.50,0.36 1.58,0.31 1.66,0.40 1.78,0.30 1.82,0.48 1.95,0.33 2.02,0.42 2.06,0.52 1.72,0.46 1.60,0.50 1.50,0.44 1.13,0.28 1.22,0.34 1.35,0.36 2.24,2.02 2.19,1.98 2.21,1.96 2.26,1.92 2.32,1.91 2.35,1.93 2.40,1.87 2.37,1.85 2.28,1.80 2.25,1.79 2.23,1.80 2.31,2.05 2.34,2.06 2.37,2.02 2.40,2.01 2.33,1.99 2.42,2.04 2.44,2.00 2.29,2.00 2.53,2.05 2.54,1.98 2.48,1.98 2.54,1.93 2.55,1.90 2.66,1.98 2.62,1.95 2.75,2.02 2.77,2.05 2.85,1.88 2.90,1.98 2.94,2.00 3.00,2.03 2.44,2.29 2.46,2.27 2.43,2.23 2.47,2.20 2.45,2.18 2.51,2.22 2.41,2.20 2.54,2.11 2.60,2.13 2.60,2.10 2.74,2.13 2.76,2.12 2.78,2.11 2.75,2.10 2.60,2.23 2.62,2.18 2.74,2.22 2.74,2.20 2.80,2.18 2.80,2.30 2.82,2.28 2.60,2.33 2.66,2.43 2.66,2.39 2.75,2.50 2.77,2.48 2.74,2.45 2.80,2.53 2.85,2.41 2.92,2.38 2.93,2.46 2.96,2.46 2.97,2.26 3.07,2.49 3.10,2.47 3.26,2.24 3.34,2.50 3.42,2.35 3.46,2.35 3.47,2.53 3.58,2.62 2.98,2.71 3.00,2.73 3.10,2.82 3.23,2.78 3.26,2.72 3.25,2.75 3.35,2.83 3.40,2.73 3.41,2.71 3.14,2.92 3.22,2.93 3.23,3.02 3.26,2.86 3.28,3.07 3.50,3.18 3.71,3.27 3.72,3.26 3.85,3.15 4.00,3.30 4.08,3.47";

// Bag cell genes with no F-cluster expression (F-cluster = 1), bag cell log10 values
const bagOnly = [0.185, 0.20, 0.22, 0.24, 0.255, 0.27, 0.29, 0.31, 0.325, 0.34, 0.36, 0.38, 0.395, 0.41, 0.43, 0.45, 0.465, 0.48, 0.50, 0.52, 0.535, 0.55, 0.57, 0.59, 0.605, 0.62, 0.64, 0.66, 0.675, 0.69, 0.71, 0.73, 0.745, 0.76, 0.78, 0.80, 0.815, 0.83, 0.85, 0.87, 0.885, 0.90, 0.92, 0.94, 0.955, 0.97, 0.99, 1.01, 1.025, 1.04, 1.06, 1.08, 1.095, 1.11, 1.13, 1.15, 1.165, 1.18, 1.20, 1.22, 1.235, 1.25, 1.27, 1.29, 1.305, 1.32, 1.34, 1.36, 1.375, 1.39, 1.41, 1.43, 1.445, 1.46, 1.48, 1.50, 1.515, 1.53, 1.55, 1.57, 1.585, 1.60, 1.62, 1.64, 1.655, 1.67, 1.69, 1.71, 1.725, 1.74, 1.76, 1.78, 1.795, 1.81, 1.83, 1.85, 1.865, 1.88, 1.90, 1.92, 1.935, 1.95, 1.97, 1.99, 2.005, 2.02, 2.04, 2.06, 2.075, 2.09, 2.11, 2.13, 2.145, 2.16, 2.18, 2.20, 2.22, 2.24, 2.26, 2.28, 2.30, 2.32, 2.345, 2.39, 2.41, 2.44, 2.46, 2.531, 2.582, 2.623, 2.644, 2.675, 2.726, 2.783, 2.84, 2.912, 3.036, 3.082, 3.139, 3.18, 3.21, 3.488, 3.632, 3.771];

// Highlighted genes (raw TPM+1)
const neuroGenes = ["Interleukin 17-like", "APGWamide", "Allatotropin", "Insulin II-like", "Cerebral peptide 2", "ncRNA"];
const neuroBag   = [1.38, 2.49, 1.94, 9.84, 4.78, 42.3];
const neuroF     = [193000, 4000, 2612, 1698, 942, 429];

const glialGenes = ["Ag", "AChBP", "Stanniocalcin", "Areolysin-1", "Egg-laying\nHormone-2", "Egg-laying\nHormone-1"];
const glialBag   = [26550, 9140, 9036, 8933, 23280, 429500];
const glialF     = [7230, 3228, 540, 91.4, 1, 1];

// Axis ticks
const xTicks = [1, 4, 10, 40, 100, 400, 1000, 4000, 10000, 40000, 100000, 400000];
const yTicks = [1, 4, 10, 40, 100, 400, 1000, 4000, 10000, 40000, 100000];

// Group call-outs: label anchor and arrow targets, in data units (bag, F)
const neuroCallout = { text: "Neuropeptides", from: [77.3, 12830],
  to: [[13.5, 5740], [6.2, 2326], [5.25, 1130], [32.9, 1941]] };
const glialCallout = { text: "Glial Markers", from: [237000, 2075],
  to: [[33240, 5560], [23000, 3126], [36540, 557], [30970, 93]] };

// ---------------------------------------------------------------------------
const svg = d3.select("#chart");
const plot = { left: 92, right: 1258, top: 8, bottom: 805 };

const x = d3.scaleLog().domain([0.615, 600000]).range([plot.left, plot.right]);
const y = d3.scaleLog().domain([0.642, 310000]).range([plot.bottom, plot.top]);

const fromLog = s => s.trim().split(/\s+/).map(p => {
  const [a, b] = p.split(",").map(Number);
  return [Math.pow(10, a), Math.pow(10, b)];
});

const GREEN = "#33a95e", GREEN_EDGE = "#27924f";
const BLUE = "#2d90d9", BLUE_EDGE = "#2278bb";
const GREEN_TEXT = "#1ea44f", BLUE_TEXT = "#1e9fdf";
const R = 3.6;

// faint panel frame
svg.append("line").attr("x1", 33).attr("x2", 33).attr("y1", 0).attr("y2", 828)
  .attr("stroke", "#f2f2f2").attr("stroke-width", 1);
svg.append("line").attr("x1", 33).attr("x2", 1329).attr("y1", 828).attr("y2", 828)
  .attr("stroke", "#f5f5f5").attr("stroke-width", 1);

// axes
const xAxis = d3.axisBottom(x).tickValues(xTicks).tickFormat(d3.format("d"))
  .tickSize(0).tickSizeOuter(0).tickPadding(9);
const gx = svg.append("g").attr("transform", `translate(0,${plot.bottom})`).call(xAxis);
const yAxis = d3.axisLeft(y).tickValues(yTicks).tickFormat(d3.format("d"))
  .tickSize(5).tickSizeOuter(0).tickPadding(4);
const gy = svg.append("g").attr("transform", `translate(${plot.left},0)`).call(yAxis);
[gx, gy].forEach(g => {
  g.select(".domain").attr("stroke", "#d9d9d9").attr("stroke-width", 1.5);
  g.selectAll(".tick line").attr("stroke", "#d0d0d0");
  g.selectAll(".tick text").attr("fill", "#333").style("font-size", "10px")
    .style("font-family", '"Liberation Sans", Arial, sans-serif');
});
gy.select(".domain").attr("d", `M0,${plot.bottom}V${plot.top}`);
gx.select(".domain").attr("d", `M${plot.left},0H${plot.right}`);

// scatter
const dots = svg.append("g");
function drawDots(data, fill, edge) {
  dots.append("g").selectAll("circle").data(data).join("circle")
    .attr("cx", d => x(d[0])).attr("cy", d => y(d[1])).attr("r", R)
    .attr("fill", fill).attr("stroke", edge).attr("stroke-width", 0.7);
}
drawDots(bagOnly.map(v => [Math.pow(10, v), 1]), BLUE, BLUE_EDGE);
[bagCore, bagCoreB, bagCoreC, bagCoreD, bagCoreE, bagSparse]
  .forEach(s => drawDots(fromLog(s), BLUE, BLUE_EDGE));
[fZeroBag, fLowBag, fLowBagB, fLowBagC, fEdge, fMidBag, fMidBagB, fMidBagC, fHighSparse, fBand, fTop]
  .forEach(s => drawDots(fromLog(s), GREEN, GREEN_EDGE));

// highlighted genes with red rings
function highlight(names, bx, fy, fill, textFill, offsets) {
  const gH = svg.append("g");
  names.forEach((name, i) => {
    const cx = x(bx[i]), cy = y(fy[i]);
    gH.append("circle").attr("cx", cx).attr("cy", cy).attr("r", 3.1).attr("fill", fill);
    gH.append("circle").attr("cx", cx).attr("cy", cy).attr("r", 6.6)
      .attr("fill", "none").attr("stroke", "#e0201b").attr("stroke-width", 2);
    const [dx, dy] = offsets[i];
    name.split("\n").forEach((ln, k) => {
      gH.append("text")
        .attr("transform", `translate(${cx + dx},${cy + dy + k * 23}) scale(0.87,1)`)
        .attr("dy", "0.35em").attr("fill", textFill)
        .style("font-size", "17px").text(ln);
    });
  });
}
highlight(neuroGenes, neuroBag, neuroF, GREEN, GREEN_TEXT,
  [[22, -5], [10, 7], [8, 8], [12, 1], [10, 9], [9, -2]]);
highlight(glialGenes, glialBag, glialF, BLUE, BLUE_TEXT,
  [[17, -3], [12, -12], [15, -2], [16, 1], [18, -16], [17, -16]]);

// second label sharing the APGWamide point
svg.append("text")
  .attr("transform", `translate(${x(neuroBag[1]) + 14},${y(neuroF[1]) - 14}) scale(0.87,1)`)
  .attr("dy", "0.35em").attr("fill", GREEN_TEXT).style("font-size", "17px")
  .text("Cerebral peptide 1");

// call-out arrows
svg.append("defs").append("marker").attr("id", "head").attr("viewBox", "0 0 12 10")
  .attr("refX", 12).attr("refY", 5).attr("markerWidth", 12).attr("markerHeight", 10)
  .attr("markerUnits", "userSpaceOnUse").attr("orient", "auto")
  .append("path").attr("d", "M0,0L12,5L0,10Z").attr("fill", "#000");

function callout(c, anchor) {
  const [fx, fy] = [x(c.from[0]), y(c.from[1])];
  c.to.forEach(t => {
    svg.append("line").attr("x1", fx).attr("y1", fy).attr("x2", x(t[0])).attr("y2", y(t[1]))
      .attr("stroke", "#111").attr("stroke-width", 1).attr("marker-end", "url(#head)");
  });
  svg.append("text")
    .attr("transform", `translate(${fx + anchor[0]},${fy + anchor[1]}) scale(0.88,1)`)
    .attr("dy", "0.35em").attr("fill", "#4a505c").style("font-size", "20px").text(c.text);
}
callout(neuroCallout, [10, 0]);
callout(glialCallout, [5, 0]);

// axis titles
svg.append("text")
  .attr("transform", `translate(772,857) scale(0.88,1)`)
  .attr("text-anchor", "middle").attr("dy", "0.35em").attr("fill", "#505560")
  .style("font-size", "20.5px").text("Bag cell cluster (log TPM+1)");
svg.append("text")
  .attr("transform", `translate(18,410) rotate(-90) scale(1,0.88)`)
  .attr("text-anchor", "middle").attr("dy", "0.35em").attr("fill", "#505560")
  .style("font-size", "25px").text("Ave F-cluster (log TPM+1)");
</script>
</body>
</html>
